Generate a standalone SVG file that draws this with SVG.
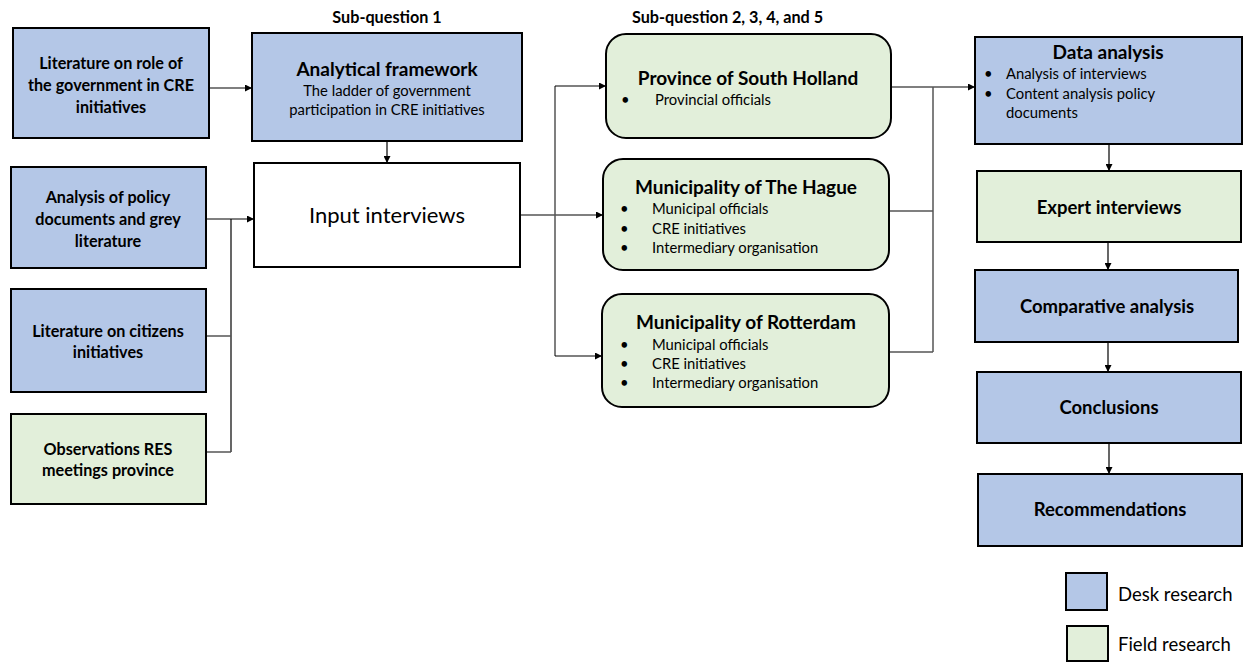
<svg xmlns="http://www.w3.org/2000/svg" width="1245" height="662" viewBox="0 0 1245 662">
<defs>
<marker id="ah" viewBox="0 0 10 10" refX="10" refY="5" markerWidth="7" markerHeight="7" markerUnits="userSpaceOnUse" orient="auto">
<path d="M0,0 L10,5 L0,10 z" fill="#000"/>
</marker>
<style>
.desk{fill:#B4C7E7;stroke:#000;stroke-width:2}
.field{fill:#E2EFDA;stroke:#000;stroke-width:2}
.plain{fill:#fff;stroke:#000;stroke-width:2}
text{font-family:Lato,"Noto Sans",sans-serif;fill:#000}
.b{font-weight:bold;font-size:16.2px;text-anchor:middle}
.h{font-weight:bold;font-size:19px;text-anchor:middle}
.s{font-size:14.8px}
.sc{font-size:14.8px;text-anchor:middle}
.r{font-weight:bold;font-size:18.5px;text-anchor:middle}
.c{fill:none;stroke:#000;stroke-width:1.2}
.g{fill:none;stroke:#555;stroke-width:1.5}
.lg{font-size:18.5px}
</style>
</defs>
<text x="387" y="23" class="b" style="font-size:16.2px">Sub-question 1</text>
<text x="632" y="23" style="font-weight:bold;font-size:16.2px">Sub-question 2, 3, 4, and 5</text>

<g id="connectors">
<path class="c" d="M209,88 H252" marker-end="url(#ah)"/>
<path class="c" d="M387,141 V163" marker-end="url(#ah)"/>
<path class="c" d="M206,219 H254" marker-end="url(#ah)"/>
<path class="c" d="M231,219 V452"/>
<path class="g" d="M206,336 H231 M206,452 H231"/>
<path class="c" d="M520,215 H603" marker-end="url(#ah)"/>
<path class="g" d="M555,86 V356"/>
<path class="c" d="M555,86 H606" marker-end="url(#ah)"/>
<path class="c" d="M555,356 H602" marker-end="url(#ah)"/>
<path class="c" d="M891,87 H975" marker-end="url(#ah)"/>
<path class="g" d="M933,87 V352 M889,211 H933 M889,352 H933"/>
<path class="c" d="M1109,144 V171" marker-end="url(#ah)"/>
<path class="c" d="M1108,242 V270" marker-end="url(#ah)"/>
<path class="c" d="M1108,342 V372" marker-end="url(#ah)"/>
<path class="c" d="M1109,443 V474" marker-end="url(#ah)"/>
</g>

<g id="lit-role">
<rect x="13" y="28" width="196" height="110" class="desk"/>
<text x="111" y="69" class="b">Literature on role of</text>
<text x="111" y="91" class="b">the government in CRE</text>
<text x="111" y="113" class="b">initiatives</text>
</g>
<g id="analytical-framework">
<rect x="252" y="33" width="270" height="108" class="desk"/>
<text x="387" y="76" class="h">Analytical framework</text>
<text x="387" y="96" class="sc">The ladder of government</text>
<text x="387" y="115" class="sc">participation in CRE initiatives</text>
</g>
<g id="input-interviews">
<rect x="254" y="163" width="266" height="104" class="plain"/>
<text x="387" y="223" style="font-size:22px;text-anchor:middle">Input interviews</text>
</g>
<g id="policy-docs">
<rect x="11" y="167" width="195" height="101" class="desk"/>
<text x="108" y="203" class="b">Analysis of policy</text>
<text x="108" y="225" class="b">documents and grey</text>
<text x="108" y="247" class="b">literature</text>
</g>
<g id="lit-citizens">
<rect x="11" y="289" width="195" height="103" class="desk"/>
<text x="108" y="337" class="b">Literature on citizens</text>
<text x="108" y="358" class="b">initiatives</text>
</g>
<g id="observations">
<rect x="11" y="414" width="195" height="90" class="field"/>
<text x="108" y="455" class="b">Observations RES</text>
<text x="108" y="476" class="b">meetings province</text>
</g>

<g id="south-holland">
<rect x="606" y="34" width="285" height="104" rx="20" class="field"/>
<text x="748" y="85" class="h">Province of South Holland</text>
<text x="621" y="105" class="s">•</text>
<text x="655" y="105" class="s">Provincial officials</text>
</g>
<g id="the-hague">
<rect x="603" y="159" width="286" height="111" rx="20" class="field"/>
<text x="746" y="194" class="h">Municipality of The Hague</text>
<text x="620" y="214" class="s">•</text>
<text x="652" y="214" class="s">Municipal officials</text>
<text x="620" y="234" class="s">•</text>
<text x="652" y="234" class="s">CRE initiatives</text>
<text x="620" y="253" class="s">•</text>
<text x="652" y="253" class="s">Intermediary organisation</text>
</g>
<g id="rotterdam">
<rect x="602" y="294" width="287" height="113" rx="20" class="field"/>
<text x="746" y="329" class="h">Municipality of Rotterdam</text>
<text x="620" y="350" class="s">•</text>
<text x="652" y="350" class="s">Municipal officials</text>
<text x="620" y="369" class="s">•</text>
<text x="652" y="369" class="s">CRE initiatives</text>
<text x="620" y="388" class="s">•</text>
<text x="652" y="388" class="s">Intermediary organisation</text>
</g>

<g id="data-analysis">
<rect x="975" y="37" width="267" height="107" class="desk"/>
<text x="1108" y="59" class="h">Data analysis</text>
<text x="984" y="79" class="s">•</text>
<text x="1006" y="79" class="s">Analysis of interviews</text>
<text x="984" y="99" class="s">•</text>
<text x="1006" y="99" class="s">Content analysis policy</text>
<text x="1006" y="118" class="s">documents</text>
</g>
<g id="expert-interviews">
<rect x="977" y="171" width="264" height="71" class="field"/>
<text x="1109" y="214" class="r">Expert interviews</text>
</g>
<g id="comparative-analysis">
<rect x="975" y="270" width="263" height="72" class="desk"/>
<text x="1107" y="313" class="r">Comparative analysis</text>
</g>
<g id="conclusions">
<rect x="977" y="372" width="264" height="71" class="desk"/>
<text x="1109" y="414" class="r">Conclusions</text>
</g>
<g id="recommendations">
<rect x="978" y="474" width="264" height="72" class="desk"/>
<text x="1110" y="516" class="r">Recommendations</text>
</g>

<g id="legend">
<rect x="1066" y="573" width="41" height="37" class="desk"/>
<text x="1118" y="601" class="lg">Desk research</text>
<rect x="1067" y="626" width="41" height="35" class="field"/>
<text x="1118" y="651" class="lg">Field research</text>
</g>
</svg>
